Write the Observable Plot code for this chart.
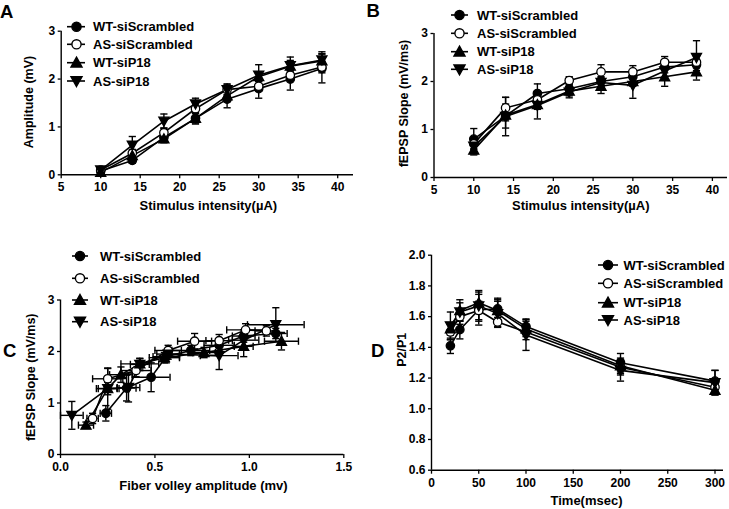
<!DOCTYPE html>
<html><head><meta charset="utf-8">
<script src="https://cdn.jsdelivr.net/npm/d3@7"></script>
<script src="https://cdn.jsdelivr.net/npm/@observablehq/plot@0.6"></script>
<style>
body{margin:0;background:#fff;}
#wrap{position:relative;width:729px;height:509px;overflow:hidden;background:#fff;font-family:"Liberation Sans",Arial,sans-serif;}
#wrap svg{position:absolute;}
</style></head><body><div id="wrap"></div>
<script>
// ---------- data ----------
const seriesNames = ["WT-siScrambled", "AS-siScrambled", "WT-siP18", "AS-siP18"];

// Panel A & B: stimulus intensity (µA)
const intensity = [10, 14, 18, 22, 26, 30, 34, 38];
const ampWTScr = [0.08, 0.30, 0.78, 1.18, 1.58, 1.80, 2.00, 2.22];
const ampWTScrErr = [0.05, 0.06, 0.08, 0.12, 0.18, 0.20, 0.23, 0.30];
const ampASScr = [0.10, 0.45, 0.88, 1.38, 1.78, 1.85, 2.08, 2.25];
const ampASScrErr = [0.04, 0.08, 0.10, 0.10, 0.10, 0.10, 0.10, 0.12];
const ampWTP18 = [0.05, 0.40, 0.75, 1.18, 1.65, 2.05, 2.27, 2.38];
const ampWTP18Err = [0.04, 0.06, 0.08, 0.10, 0.12, 0.10, 0.12, 0.15];
const ampASP18 = [0.10, 0.62, 1.12, 1.48, 1.78, 2.08, 2.28, 2.40];
const ampASP18Err = [0.06, 0.18, 0.15, 0.12, 0.12, 0.22, 0.18, 0.17];

const slopeWTScr = [0.80, 1.28, 1.75, 1.85, 2.00, 2.10, 2.30, 2.35];
const slopeWTScrErr = [0.22, 0.25, 0.20, 0.10, 0.10, 0.10, 0.12, 0.12];
const slopeASScr = [0.70, 1.45, 1.62, 2.02, 2.20, 2.20, 2.40, 2.40];
const slopeASScrErr = [0.10, 0.22, 0.10, 0.08, 0.15, 0.13, 0.12, 0.12];
const slopeWTP18 = [0.57, 1.30, 1.52, 1.80, 1.90, 2.00, 2.10, 2.20];
const slopeWTP18Err = [0.10, 0.12, 0.10, 0.10, 0.15, 0.10, 0.20, 0.17];
const slopeASP18 = [0.65, 1.27, 1.50, 1.78, 1.98, 1.92, 2.22, 2.50];
const slopeASP18Err = [0.12, 0.40, 0.28, 0.12, 0.10, 0.27, 0.15, 0.35];

// Panel C: fiber volley amplitude (mv) vs fEPSP slope
const fvWTScrX = [0.24, 0.35, 0.48, 0.56, 0.69, 0.84, 0.97, 1.14];
const fvWTScrXErr = [0.03, 0.05, 0.10, 0.07, 0.10, 0.08, 0.06, 0.06];
const fvWTScrY = [0.80, 1.29, 1.50, 1.90, 2.02, 2.12, 2.30, 2.35];
const fvWTScrYErr = [0.15, 0.25, 0.28, 0.12, 0.10, 0.10, 0.12, 0.10];
const fvASScrX = [0.17, 0.25, 0.40, 0.57, 0.71, 0.84, 0.98, 1.09];
const fvASScrXErr = [0.03, 0.08, 0.08, 0.07, 0.09, 0.07, 0.10, 0.06];
const fvASScrY = [0.70, 1.47, 1.63, 2.02, 2.20, 2.21, 2.42, 2.40];
const fvASScrYErr = [0.10, 0.20, 0.12, 0.10, 0.15, 0.12, 0.12, 0.10];
const fvWTP18X = [0.135, 0.25, 0.32, 0.42, 0.55, 0.76, 0.97, 1.17];
const fvWTP18XErr = [0.04, 0.05, 0.06, 0.10, 0.08, 0.06, 0.05, 0.09];
const fvWTP18Y = [0.57, 1.28, 1.55, 1.76, 1.88, 1.98, 2.10, 2.20];
const fvWTP18YErr = [0.06, 0.12, 0.15, 0.10, 0.10, 0.10, 0.20, 0.17];
const fvASP18X = [0.06, 0.25, 0.36, 0.42, 0.57, 0.84, 0.97, 1.14];
const fvASP18XErr = [0.06, 0.06, 0.06, 0.05, 0.06, 0.10, 0.08, 0.15];
const fvASP18Y = [0.76, 1.28, 1.30, 1.75, 1.95, 1.92, 2.22, 2.52];
const fvASP18YErr = [0.27, 0.40, 0.28, 0.12, 0.10, 0.27, 0.15, 0.33];

// Panel D: paired-pulse ratio vs interval (msec)
const timeMs = [20, 30, 50, 70, 100, 200, 300];
const ppWTScr = [1.41, 1.515, 1.645, 1.65, 1.535, 1.30, 1.18];
const ppWTScrErr = [0.05, 0.06, 0.10, 0.07, 0.05, 0.06, 0.07];
const ppASScr = [1.50, 1.60, 1.64, 1.565, 1.50, 1.27, 1.14];
const ppASScrErr = [0.05, 0.05, 0.06, 0.03, 0.05, 0.05, 0.04];
const ppWTP18 = [1.52, 1.64, 1.69, 1.64, 1.52, 1.28, 1.12];
const ppWTP18Err = [0.04, 0.07, 0.07, 0.06, 0.05, 0.05, 0.03];
const ppASP18 = [1.54, 1.63, 1.67, 1.62, 1.48, 1.25, 1.17];
const ppASP18Err = [0.09, 0.06, 0.10, 0.09, 0.10, 0.07, 0.08];

// tick labels
const ticksAx = [5, 10, 15, 20, 25, 30, 35, 40];
const ticksAy = [0, 1, 2, 3];
const ticksCx = [0, 0.5, 1.0, 1.5];
const ticksDx = [0, 50, 100, 150, 200, 250, 300];
const ticksDy = [0.6, 0.8, 1.0, 1.2, 1.4, 1.6, 1.8, 2.0];

// ---------- symbols ----------
const rad = s => Math.sqrt(s / Math.PI);
const triUp = {draw(c, s) { const h = rad(s) * 1.2; c.moveTo(0, -h); c.lineTo(h, h * 0.8); c.lineTo(-h, h * 0.8); c.closePath(); }};
const triDown = {draw(c, s) { const h = rad(s) * 1.2; c.moveTo(0, h); c.lineTo(h, -h * 0.8); c.lineTo(-h, -h * 0.8); c.closePath(); }};
const circ = {draw(c, s) { const r = rad(s); c.moveTo(r, 0); c.arc(0, 0, r, 0, 2 * Math.PI); c.closePath(); }};
const capH = {draw(c, s) { const r = rad(s); c.moveTo(-r, 0); c.lineTo(r, 0); }};
const capV = {draw(c, s) { const r = rad(s); c.moveTo(0, -r); c.lineTo(0, r); }};
const seriesStyle = [
  {symbol: circ, fill: "black"},
  {symbol: circ, fill: "white"},
  {symbol: triUp, fill: "black"},
  {symbol: triDown, fill: "black"}
];

function table(xs, ys, es, xes) {
  return xs.map((_, i) => ({x: xs[i], y: ys[i], e: es[i], ex: xes ? xes[i] : 0}));
}

const dataA = [
  table(intensity, ampWTScr, ampWTScrErr), table(intensity, ampASScr, ampASScrErr),
  table(intensity, ampWTP18, ampWTP18Err), table(intensity, ampASP18, ampASP18Err)];
const dataB = [
  table(intensity, slopeWTScr, slopeWTScrErr), table(intensity, slopeASScr, slopeASScrErr),
  table(intensity, slopeWTP18, slopeWTP18Err), table(intensity, slopeASP18, slopeASP18Err)];
const dataC = [
  table(fvWTScrX, fvWTScrY, fvWTScrYErr, fvWTScrXErr), table(fvASScrX, fvASScrY, fvASScrYErr, fvASScrXErr),
  table(fvWTP18X, fvWTP18Y, fvWTP18YErr, fvWTP18XErr), table(fvASP18X, fvASP18Y, fvASP18YErr, fvASP18XErr)];
const dataD = [
  table(timeMs, ppWTScr, ppWTScrErr), table(timeMs, ppASScr, ppASScrErr),
  table(timeMs, ppWTP18, ppWTP18Err), table(timeMs, ppASP18, ppASP18Err)];

const FONT = "Liberation Sans, Arial, Helvetica, sans-serif";
const wrap = document.getElementById("wrap");
const fmt0 = d3.format("d");
const fmt1 = d3.format(".1f");

function panel(cfg) {
  const marks = [];
  const R = 4.2, CAP = 3.6;
  // error bars
  cfg.data.forEach(d => {
    marks.push(Plot.ruleX(d, {x: "x", y1: v => v.y - v.e, y2: v => v.y + v.e, stroke: "black", strokeWidth: 1.4}));
    marks.push(Plot.dot(d, {x: "x", y: v => v.y - v.e, symbol: capH, r: CAP, stroke: "black", fill: "none", strokeWidth: 1.4}));
    marks.push(Plot.dot(d, {x: "x", y: v => v.y + v.e, symbol: capH, r: CAP, stroke: "black", fill: "none", strokeWidth: 1.4}));
    if (cfg.hErr) {
      marks.push(Plot.ruleY(d, {y: "y", x1: v => v.x - v.ex, x2: v => v.x + v.ex, stroke: "black", strokeWidth: 1.4}));
      marks.push(Plot.dot(d, {y: "y", x: v => v.x - v.ex, symbol: capV, r: CAP, stroke: "black", fill: "none", strokeWidth: 1.4}));
      marks.push(Plot.dot(d, {y: "y", x: v => v.x + v.ex, symbol: capV, r: CAP, stroke: "black", fill: "none", strokeWidth: 1.4}));
    }
  });
  cfg.data.forEach(d => marks.push(Plot.line(d, {x: "x", y: "y", stroke: "black", strokeWidth: 1.6})));
  cfg.data.forEach((d, i) => marks.push(Plot.dot(d, {x: "x", y: "y", symbol: seriesStyle[i].symbol, fill: seriesStyle[i].fill, stroke: "black", strokeWidth: 1.3, r: R})));
  // axes
  marks.push(Plot.ruleY([cfg.yDomain[0]], {stroke: "black", strokeWidth: 1.4}));
  marks.push(Plot.ruleX([cfg.xDomain[0]], {stroke: "black", strokeWidth: 1.4}));
  marks.push(Plot.axisX({ticks: cfg.xTicks, tickFormat: cfg.xFormat || fmt0, tickSize: 4, tickPadding: 4, strokeWidth: 1.3, fontSize: 12, fontWeight: "bold", label: null}));
  marks.push(Plot.axisY({ticks: cfg.yTicks, tickFormat: cfg.yFormat || fmt0, tickSize: 3, tickPadding: 3, strokeWidth: 1.3, fontSize: 12, fontWeight: "bold", label: null}));
  marks.push(Plot.text([cfg.xTitle], {text: d => d, frameAnchor: "bottom", textAnchor: "middle", lineAnchor: "middle", dx: cfg.xt[0], dy: cfg.xt[1], fontSize: 13, fontWeight: "bold", fill: "black"}));
  marks.push(Plot.text([cfg.yTitle], {text: d => d, frameAnchor: "left", textAnchor: "middle", lineAnchor: "middle", rotate: -90, dx: cfg.yt[0], dy: cfg.yt[1], fontSize: 12.5, fontWeight: "bold", fill: "black"}));
  const svg = Plot.plot({
    width: cfg.w, height: cfg.h,
    marginLeft: cfg.m[0], marginRight: cfg.m[1], marginTop: cfg.m[2], marginBottom: cfg.m[3],
    x: {domain: cfg.xDomain, label: null},
    y: {domain: cfg.yDomain, label: null},
    style: {background: "transparent", color: "black", fontFamily: FONT, fontWeight: "bold", fontSize: "12px", overflow: "visible"},
    marks
  });
  svg.style.left = cfg.left + "px";
  svg.style.top = cfg.top + "px";
  wrap.appendChild(svg);
}

panel({left: 0, top: 0, w: 365, h: 225, m: [60.7, 12, 30.7, 50.7],
  xDomain: [5, 42], yDomain: [0, 3], xTicks: ticksAx, yTicks: ticksAy,
  data: dataA, xTitle: "Stimulus intensity(µA)", yTitle: "Amplitude (mV)", xt: [1, 31], yt: [-32, -1]});
panel({left: 365, top: 0, w: 364, h: 225, m: [68.5, 2, 33, 48],
  xDomain: [5, 41.9], yDomain: [0, 3], xTicks: ticksAx, yTicks: ticksAy,
  data: dataB, xTitle: "Stimulus intensity(µA)", yTitle: "fEPSP Slope (mV/ms)", xt: [0, 28.5], yt: [-30.5, -2]});
panel({left: 0, top: 250, w: 365, h: 259, m: [60, 21.7, 49.5, 55],
  xDomain: [0, 1.5], yDomain: [0, 3], xTicks: ticksCx, yTicks: ticksAy, xFormat: fmt1, hErr: true,
  data: dataC, xTitle: "Fiber volley amplitude (mv)", yTitle: "fEPSP Slope (mV/ms)", xt: [1.3, 31.3], yt: [-30, 0]});
panel({left: 365, top: 250, w: 364, h: 259, m: [66, 6, 4.7, 39.3],
  xDomain: [0, 309], yDomain: [0.6, 2.0], xTicks: ticksDx, yTicks: ticksDy, yFormat: fmt1,
  data: dataD, xTitle: "Time(msec)", yTitle: "P2/P1", xt: [9, 30.3], yt: [-30, -13]});

// ---------- legends & panel letters ----------
const ov = d3.select(wrap).append("svg").attr("width", 729).attr("height", 509)
  .style("left", "0px").style("top", "0px").style("pointer-events", "none");
const legends = [
  {rows: [26.7, 44.3, 62.7, 81], x1: 67, x2: 85, mx: 76.5, tx: 93},
  {rows: [15, 33.3, 51.7, 69.3], x1: 451, x2: 468, mx: 459.5, tx: 477},
  {rows: [256, 278.3, 300, 321.7], x1: 72, x2: 88, mx: 80, tx: 100},
  {rows: [265, 283.3, 302.7, 320], x1: 598, x2: 618, mx: 608, tx: 623.5}
];
const LR = 4.6;
legends.forEach(L => {
  seriesNames.forEach((name, i) => {
    const y = L.rows[i];
    ov.append("line").attr("x1", L.x1).attr("x2", L.x2).attr("y1", y).attr("y2", y)
      .attr("stroke", "black").attr("stroke-width", 1.6);
    ov.append("path").attr("transform", `translate(${L.mx},${y})`)
      .attr("d", d3.symbol(seriesStyle[i].symbol, LR * LR * Math.PI)())
      .attr("fill", seriesStyle[i].fill).attr("stroke", "black").attr("stroke-width", 1.4);
    ov.append("text").attr("x", L.tx).attr("y", y).attr("dy", "0.35em")
      .attr("font-family", FONT).attr("font-weight", "bold").attr("font-size", 13)
      .attr("fill", "black").text(name);
  });
});
const letters = [["A", 0, 18.3], ["B", 366.5, 16.7], ["C", 3, 357], ["D", 371, 357]];
letters.forEach(([t, x, y]) => ov.append("text").attr("x", x).attr("y", y)
  .attr("font-family", FONT).attr("font-weight", "bold").attr("font-size", 18.5)
  .attr("fill", "black").text(t));
</script></body></html>
